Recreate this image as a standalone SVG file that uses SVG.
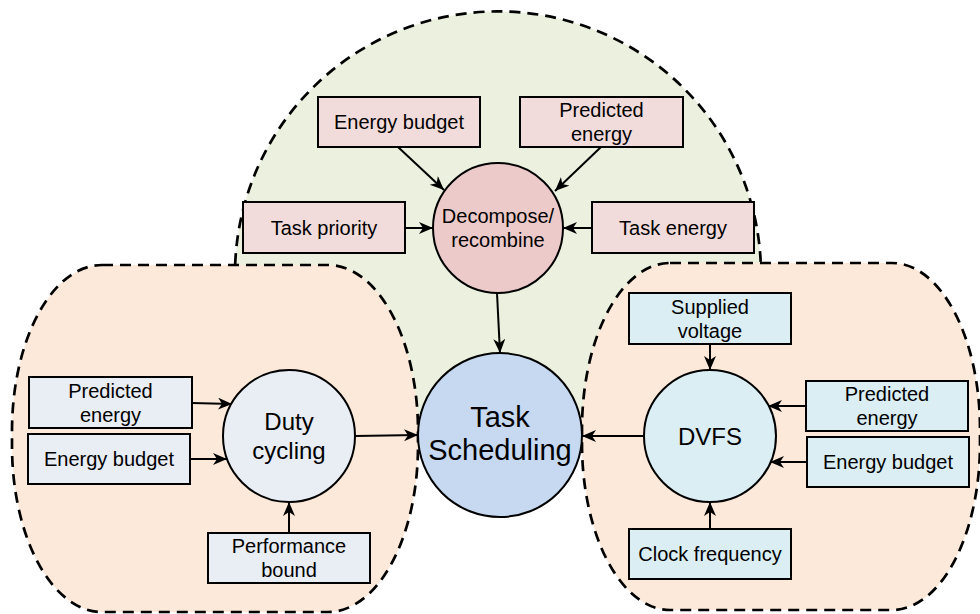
<svg xmlns="http://www.w3.org/2000/svg" width="980" height="614" viewBox="0 0 980 614">
  <style>
    .bg { stroke: none; }
    .dash { fill: none; stroke: #000; stroke-width: 2.7; stroke-dasharray: 11 7; }
    .box { stroke: #000; stroke-width: 2; }
    .pink { fill: #F2DCDB; }
    .pinkc { fill: #EBCAC9; }
    .gray { fill: #E9EDF4; }
    .cyan { fill: #DAEEF3; }
    .blue { fill: #C6D9F1; }
    text { font-family: "Liberation Sans", Arial, sans-serif; fill: #000; text-anchor: middle; }
    .t20 { font-size: 20px; }
    .t24 { font-size: 24px; }
    .t29 { font-size: 29px; }
    .conn line { stroke: #000; stroke-width: 2; marker-end: url(#arr); }
  </style>
  <defs>
    <marker id="arr" markerUnits="userSpaceOnUse" markerWidth="16" markerHeight="14" refX="14" refY="6" orient="auto">
      <path d="M0,0 L14,6 L0,12 L4,6 Z" fill="#000"/>
    </marker>
  </defs>
  <rect x="0" y="0" width="980" height="614" fill="#fff"/>

  <!-- containers -->
  <g id="green-region">
    <path class="bg" fill="#EBF1DE" d="M235.2 264 A263 263 0 0 1 760.7 262 L760 420 L236 420 Z"/>
    <path class="dash" d="M235.2 264 A263 263 0 0 1 760.7 262"/>
  </g>
  <g id="left-region">
    <rect x="12" y="265" width="406" height="347" rx="90" ry="166" class="dash" style="fill:#FDE9D9"/>
  </g>
  <g id="right-region">
    <rect x="582" y="263" width="398" height="347" rx="88" ry="166" class="dash" style="fill:#FDE9D9"/>
  </g>

  <!-- connectors -->
  <g id="connectors" class="conn">
    <line x1="398" y1="147" x2="444" y2="190"/>
    <line x1="601" y1="147" x2="555" y2="191"/>
    <line x1="405" y1="228" x2="433" y2="228"/>
    <line x1="592" y1="228" x2="563" y2="228"/>
    <line x1="497" y1="293" x2="500" y2="353"/>
    <line x1="192" y1="403" x2="232" y2="404"/>
    <line x1="190" y1="459" x2="227" y2="459"/>
    <line x1="289" y1="533" x2="289" y2="502"/>
    <line x1="355" y1="436" x2="418" y2="435"/>
    <line x1="710" y1="344" x2="710" y2="370"/>
    <line x1="806" y1="406" x2="768" y2="406"/>
    <line x1="807" y1="462" x2="770" y2="462"/>
    <line x1="710" y1="529" x2="710" y2="502"/>
    <line x1="644" y1="436" x2="582" y2="436"/>
  </g>

  <!-- top group nodes -->
  <g id="top-energy-budget">
    <rect class="box pink" x="318" y="97" width="162" height="50"/>
    <text class="t20" x="399" y="129">Energy budget</text>
  </g>
  <g id="top-predicted-energy">
    <rect class="box pink" x="520" y="97" width="163" height="50"/>
    <text class="t20" x="601.5" y="117">Predicted</text>
    <text class="t20" x="601.5" y="141">energy</text>
  </g>
  <g id="task-priority">
    <rect class="box pink" x="243" y="202" width="162" height="51"/>
    <text class="t20" x="324" y="234.5">Task priority</text>
  </g>
  <g id="task-energy">
    <rect class="box pink" x="592" y="202" width="162" height="51"/>
    <text class="t20" x="673" y="234.5">Task energy</text>
  </g>
  <g id="decompose">
    <circle class="box pinkc" cx="498" cy="228" r="65"/>
    <text class="t20" x="498" y="223">Decompose/</text>
    <text class="t20" x="498" y="247">recombine</text>
  </g>

  <!-- center -->
  <g id="task-scheduling">
    <circle class="box blue" cx="500" cy="435" r="82"/>
    <text class="t29" x="500" y="427">Task</text>
    <text class="t29" x="500" y="460">Scheduling</text>
  </g>

  <!-- left group nodes -->
  <g id="left-predicted-energy">
    <rect class="box gray" x="29" y="377" width="163" height="51"/>
    <text class="t20" x="110.5" y="397.5">Predicted</text>
    <text class="t20" x="110.5" y="421.5">energy</text>
  </g>
  <g id="left-energy-budget">
    <rect class="box gray" x="28" y="434" width="162" height="50"/>
    <text class="t20" x="109" y="466">Energy budget</text>
  </g>
  <g id="performance-bound">
    <rect class="box gray" x="208" y="533" width="162" height="50"/>
    <text class="t20" x="289" y="553">Performance</text>
    <text class="t20" x="289" y="577">bound</text>
  </g>
  <g id="duty-cycling">
    <circle class="box gray" cx="289" cy="436" r="66"/>
    <text class="t24" x="289" y="430">Duty</text>
    <text class="t24" x="289" y="459">cycling</text>
  </g>

  <!-- right group nodes -->
  <g id="supplied-voltage">
    <rect class="box cyan" x="629" y="293" width="162" height="51"/>
    <text class="t20" x="710" y="313.5">Supplied</text>
    <text class="t20" x="710" y="337.5">voltage</text>
  </g>
  <g id="right-predicted-energy">
    <rect class="box cyan" x="806" y="381" width="162" height="50"/>
    <text class="t20" x="887" y="401">Predicted</text>
    <text class="t20" x="887" y="425">energy</text>
  </g>
  <g id="right-energy-budget">
    <rect class="box cyan" x="807" y="437" width="162" height="50"/>
    <text class="t20" x="888" y="469">Energy budget</text>
  </g>
  <g id="clock-frequency">
    <rect class="box cyan" x="629" y="529" width="162" height="50"/>
    <text class="t20" x="710" y="561">Clock frequency</text>
  </g>
  <g id="dvfs">
    <circle class="box cyan" cx="710" cy="436" r="66"/>
    <text class="t24" x="710" y="445">DVFS</text>
  </g>
</svg>
